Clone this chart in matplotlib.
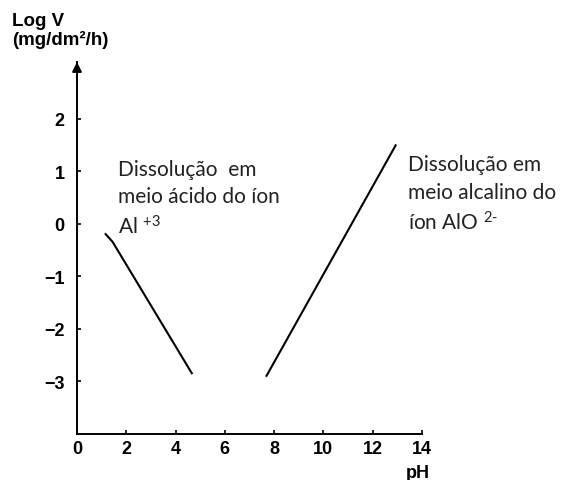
import matplotlib
matplotlib.use("Agg")
import matplotlib.pyplot as plt

# values
left_ph = [1.13, 1.44, 4.68]
left_logv = [-0.18, -0.34, -2.86]
right_ph = [7.67, 12.95]
right_logv = [-2.91, 1.51]

x_ticks = [0, 2, 4, 6, 8, 10, 12, 14]
y_ticks = [-3, -2, -1, 0, 1, 2]

axis_font = "Liberation Sans"
note_font = ["Lato", "DejaVu Sans"]

# superscripts in the notes drawn in Lato too
plt.rcParams["mathtext.fontset"] = "custom"
plt.rcParams["mathtext.rm"] = "Lato"
plt.rcParams["mathtext.it"] = "Lato"

fig = plt.figure(figsize=(5.65, 4.81), dpi=100)
ax = fig.add_axes([77 / 565, 1 - 435 / 481, 345 / 565, 372 / 481])

ax.plot(left_ph, left_logv, color="black", lw=1.5, solid_capstyle="butt")
ax.plot(right_ph, right_logv, color="black", lw=1.5, solid_capstyle="butt")

ax.set_xlim(0, 14)
ax.set_ylim(-4, 3.08)
ax.set_xticks(x_ticks)
ax.set_yticks(y_ticks)

for side in ["top", "right"]:
    ax.spines[side].set_visible(False)
for side in ["left", "bottom"]:
    ax.spines[side].set_linewidth(1.4)

ax.tick_params(axis="both", direction="in", length=3, width=1.2, labelsize=13)
ax.tick_params(axis="y", pad=9)
ax.tick_params(axis="x", pad=4)
for lab in ax.get_xticklabels() + ax.get_yticklabels():
    lab.set_fontfamily(axis_font)
    lab.set_fontweight("bold")

# arrow head on the y axis
ax.annotate("", xy=(0, 3.08), xytext=(0, 2.7), xycoords="data",
            arrowprops=dict(arrowstyle="-|>", color="black", lw=1.4,
                            mutation_scale=14, shrinkA=0, shrinkB=0),
            annotation_clip=False)

fig.text(12 / 565, 1 - 13 / 481, "Log V\n(mg/dm²/h)", ha="left", va="top",
         fontsize=13.5, fontweight="bold", family=axis_font, linespacing=1.05)
fig.text(418 / 565, 1 - 474 / 481, "pH", ha="center", va="center",
         fontsize=13, fontweight="bold", family=axis_font)

ax.text(1.66, 1.24, "Dissolução  em\nmeio ácido do íon\nAl $^{+3}$", ha="left", va="top",
        fontsize=15, family=note_font, color="#222222", linespacing=1.45)
ax.text(13.43, 1.32, "Dissolução em\nmeio alcalino do\níon AlO $^{2\\text{-}}$", ha="left", va="top",
        fontsize=15, family=note_font, color="#222222", linespacing=1.45,
        clip_on=False)

fig.savefig("out.png", dpi=100)
